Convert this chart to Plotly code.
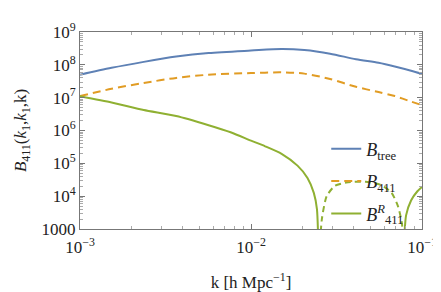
import plotly.graph_objects as go

# Data
k_main = [1.0e-3, 1.53e-3, 2.36e-3, 3.65e-3, 5.65e-3, 1.0e-2, 1.51e-2, 2.05e-2, 2.9e-2, 4.11e-2, 5.57e-2, 6.93e-2, 8.63e-2, 0.1]
b_tree = [5.0e7, 8.1e7, 1.23e8, 1.78e8, 2.29e8, 2.72e8, 3.02e8, 2.82e8, 2.19e8, 1.48e8, 1.15e8, 8.9e7, 6.6e7, 5.25e7]
b_411 = [1.12e7, 1.86e7, 2.8e7, 4.0e7, 5.0e7, 5.6e7, 5.9e7, 5.4e7, 3.7e7, 2.14e7, 1.48e7, 1.12e7, 7.6e6, 5.9e6]

# B^R_411: positive part (solid) up to first zero crossing
k_r1 = [1e-3, 1.53e-3, 2.36e-3, 3.65e-3, 5.65e-3, 7.67e-3, 1.0e-2, 1.21e-2, 1.51e-2, 1.87e-2, 2.14e-2, 2.33e-2, 2.43e-2, 2.49e-2]
b_r1 = [1.1e7, 7.1e6, 4.2e6, 2.75e6, 1.45e6, 8.7e5, 4.9e5, 3.3e5, 1.95e5, 8.5e4, 3.6e4, 1.26e4, 4.0e3, 1e2]
# negative part (dashed, |value|)
k_r2 = [2.49e-2, 2.6e-2, 2.77e-2, 3.09e-2, 3.61e-2, 4.68e-2, 5.82e-2, 6.64e-2, 7.24e-2, 7.64e-2, 7.76e-2]
b_r2 = [1e2, 2.1e3, 1.0e4, 2.05e4, 2.6e4, 2.75e4, 2.15e4, 1.26e4, 4.9e3, 1.4e3, 1e2]
# positive again (solid)
k_r3 = [7.76e-2, 8.07e-2, 8.63e-2, 9.4e-2, 0.1]
b_r3 = [1e2, 2.6e3, 7.4e3, 1.41e4, 1.9e4]

y_tickvals = [1e3, 1e4, 1e5, 1e6, 1e7, 1e8, 1e9]
y_ticktext = ["1000", "10<sup>4</sup>", "10<sup>5</sup>", "10<sup>6</sup>", "10<sup>7</sup>", "10<sup>8</sup>", "10<sup>9</sup>"]
x_tickvals = [1e-3, 1e-2, 1e-1]
x_ticktext = ["10<sup>\u22123</sup>", "10<sup>\u22122</sup>", "10<sup>\u22121</sup>"]

x_minor = [m * 10.0 ** e for e in (-3, -2) for m in range(2, 10)]
y_minor = [m * 10.0 ** e for e in range(3, 9) for m in range(2, 10)]

BLUE = "#5e81b5"
ORANGE = "#e19c24"
GREEN = "#8fb032"
FONT = "Liberation Serif"
TXT = "#222222"

fig = go.Figure()
fig.add_trace(go.Scatter(x=k_main, y=b_tree, mode="lines", name="<i>B</i><sub>tree</sub>",
                         line=dict(color=BLUE, width=2, shape="spline", smoothing=0.8)))
fig.add_trace(go.Scatter(x=k_main, y=b_411, mode="lines", name="<i>B</i><sub>411</sub>",
                         line=dict(color=ORANGE, width=2, dash="8px,5px", shape="spline", smoothing=0.8)))
fig.add_trace(go.Scatter(x=k_r1, y=b_r1, mode="lines", name="<i>B</i><sup><i>R</i></sup><sub>411</sub>",
                         line=dict(color=GREEN, width=2, shape="spline", smoothing=0.6), legendgroup="r"))
fig.add_trace(go.Scatter(x=k_r2, y=b_r2, mode="lines", showlegend=False,
                         line=dict(color=GREEN, width=2, dash="6px,4px", shape="spline", smoothing=0.6), legendgroup="r"))
fig.add_trace(go.Scatter(x=k_r3, y=b_r3, mode="lines", showlegend=False,
                         line=dict(color=GREEN, width=2, shape="spline", smoothing=0.6), legendgroup="r"))

def axis_common(minor_vals):
    return dict(showgrid=False, zeroline=False, showline=True, linecolor="#777777", linewidth=1,
                ticks="inside", ticklen=5, tickcolor="#777777", mirror="ticks",
                minor=dict(tickmode="array", tickvals=minor_vals, ticks="inside", ticklen=3,
                           tickcolor="#aaaaaa", showgrid=False),
                tickfont=dict(family=FONT, size=17, color=TXT))

fig.update_xaxes(type="log", range=[-3, -1], tickvals=x_tickvals, ticktext=x_ticktext,
                 ticklabelstandoff=3,
                 title=dict(text="k [h Mpc<sup>\u22121</sup>]", font=dict(family=FONT, size=17, color=TXT), standoff=19),
                 **axis_common(x_minor))
fig.update_yaxes(type="log", range=[3, 9], tickvals=y_tickvals, ticktext=y_ticktext,
                 title=dict(text="<i>B</i><sub>411</sub>(<i>k</i><sub>1</sub>,<i>k</i><sub>1</sub>,k)",
                            font=dict(family=FONT, size=17, color=TXT), standoff=10),
                 **axis_common(y_minor))

fig.update_layout(width=441, height=292, margin=dict(l=71, r=18, t=12, b=62),
                  plot_bgcolor="white", paper_bgcolor="white",
                  font=dict(family=FONT, size=17, color=TXT),
                  legend=dict(x=0.72, y=0.5, xanchor="left", yanchor="top", bgcolor="rgba(0,0,0,0)",
                              font=dict(family=FONT, size=18, color=TXT), traceorder="grouped",
                              tracegroupgap=6, itemwidth=30))

fig.write_html("out.html")
